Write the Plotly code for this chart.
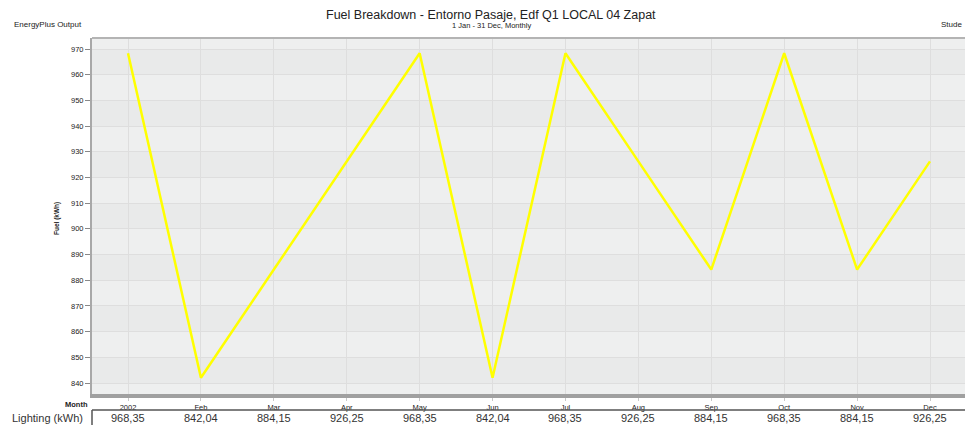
import plotly.graph_objects as go

# Monthly lighting fuel use (kWh)
months = ["2002", "Feb", "Mar", "Apr", "May", "Jun", "Jul", "Aug", "Sep", "Oct", "Nov", "Dec"]
lighting_kwh = [968.35, 842.04, 884.15, 926.25, 968.35, 842.04, 968.35, 926.25, 884.15, 968.35, 884.15, 926.25]
y_ticks = [840, 850, 860, 870, 880, 890, 900, 910, 920, 930, 940, 950, 960, 970]

W, H = 965, 425
ML, MR, MT, MB = 92, 0, 38, 31
plot_h = H - MT - MB

x_idx = list(range(len(months)))
font = "Liberation Sans, Arial, sans-serif"

fig = go.Figure()
fig.add_trace(go.Scatter(
    x=x_idx, y=lighting_kwh, mode="lines",
    line=dict(color="#FFFF00", width=2.5),
    hoverinfo="skip", showlegend=False,
))

# alternating horizontal bands between tick values
shapes = []
y_lo, y_hi = 835.72, 974.28
edges = [y_lo] + y_ticks + [y_hi]
for i in range(len(edges) - 1):
    lo, hi = edges[i], edges[i + 1]
    dark = (i % 2 == 1)
    shapes.append(dict(type="rect", xref="paper", yref="y", x0=0, x1=1, y0=lo, y1=hi,
                       fillcolor="#E9EAEA" if dark else "#EEEFEF", line_width=0, layer="below"))
# top frame line
shapes.append(dict(type="line", xref="paper", yref="paper", x0=0, x1=1, y0=1, y1=1,
                   line=dict(color="#B4B4B4", width=2)))
# data-row box under the month axis
row_top = -(410 - (MT + plot_h)) / plot_h
shapes.append(dict(type="line", xref="paper", yref="paper", x0=0, x1=1, y0=row_top, y1=row_top,
                   line=dict(color="#555555", width=1.5)))
shapes.append(dict(type="line", xref="paper", yref="paper", x0=0, x1=0, y0=row_top, y1=-(427 - (MT + plot_h)) / plot_h,
                   line=dict(color="#555555", width=1.5)))

annotations = []
def py(pix):
    return (MT + plot_h - pix) / plot_h

def px(pix):
    return (pix - ML) / (W - ML - MR)

annotations.append(dict(text="Fuel Breakdown - Entorno Pasaje, Edf Q1 LOCAL 04 Zapat",
                        xref="paper", yref="paper", x=px(491), y=py(15), xanchor="center", yanchor="middle",
                        showarrow=False, font=dict(family=font, size=12.5, color="#222222")))
annotations.append(dict(text="1 Jan - 31 Dec, Monthly",
                        xref="paper", yref="paper", x=px(491), y=py(25), xanchor="center", yanchor="middle",
                        showarrow=False, font=dict(family=font, size=7.5, color="#222222")))
annotations.append(dict(text="EnergyPlus Output",
                        xref="paper", yref="paper", x=px(12), y=py(24), xanchor="left", yanchor="middle",
                        showarrow=False, font=dict(family=font, size=8, color="#222222")))
annotations.append(dict(text="Stude",
                        xref="paper", yref="paper", x=px(964), y=py(24), xanchor="right", yanchor="middle",
                        showarrow=False, font=dict(family=font, size=8, color="#222222")))
annotations.append(dict(text="<b>Fuel (kWh)</b>",
                        xref="paper", yref="paper", x=px(57), y=py(219), xanchor="center", yanchor="middle",
                        textangle=-90, showarrow=False, font=dict(family=font, size=6.5, color="#222222")))
annotations.append(dict(text="<b>Month</b>",
                        xref="paper", yref="paper", x=px(90), y=py(404), xanchor="right", yanchor="middle",
                        showarrow=False, font=dict(family=font, size=7.5, color="#222222")))
annotations.append(dict(text="Lighting (kWh)",
                        xref="paper", yref="paper", x=px(10), y=py(418), xanchor="left", yanchor="middle",
                        showarrow=False, font=dict(family=font, size=11, color="#333333")))
for i, v in enumerate(lighting_kwh):
    annotations.append(dict(text=f"{v:.2f}".replace(".", ","),
                            xref="x", yref="paper", x=i, y=py(418), xanchor="center", yanchor="middle",
                            showarrow=False, font=dict(family=font, size=11, color="#333333")))

fig.update_layout(
    width=W, height=H,
    margin=dict(l=ML, r=MR, t=MT, b=MB, pad=0),
    paper_bgcolor="white", plot_bgcolor="#EEEFEF",
    shapes=shapes, annotations=annotations,
    showlegend=False,
    xaxis=dict(
        range=[-0.494, 11.48], tickmode="array", tickvals=x_idx, ticktext=months,
        showgrid=True, gridcolor="#DEDEDE", gridwidth=1.3,
        showline=True, linecolor="#A0A0A0", linewidth=4,
        ticks="outside", ticklen=3, tickcolor="#C8C8C8",
        tickfont=dict(family=font, size=7.5, color="#222222"),
        zeroline=False, fixedrange=True,
    ),
    yaxis=dict(
        range=[y_lo, y_hi], tickmode="array", tickvals=y_ticks,
        showgrid=True, gridcolor="#DEDEDE", gridwidth=1.3,
        showline=True, linecolor="#A8A8A8", linewidth=2,
        ticks="outside", ticklen=5, tickcolor="#888888",
        tickfont=dict(family=font, size=7.5, color="#222222"),
        zeroline=False, fixedrange=True,
    ),
)

fig.write_html("out.html", config={"displayModeBar": False})
